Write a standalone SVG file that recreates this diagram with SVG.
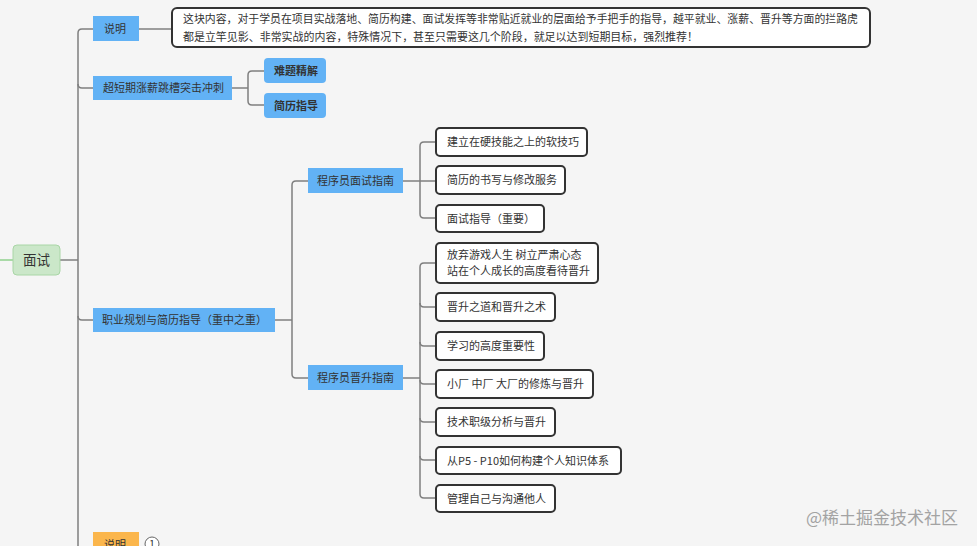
<svg xmlns="http://www.w3.org/2000/svg" width="977" height="546" viewBox="0 0 977 546">
<style>
text{font-family:"Noto Sans CJK SC","Liberation Sans",sans-serif;fill:#333;}
.b{fill:#62b2f5;}
.w{fill:#fff;stroke:#333;stroke-width:2;}
.t{font-size:11px;}
.c{fill:none;stroke:#7f7f7f;stroke-width:1.5;}
</style>
<rect width="977" height="546" fill="#f5f5f5"/>
<g id="connectors">
<path d="M0 260H13" fill="none" stroke="#8fd08c" stroke-width="1.5"/>
<path class="c" d="M60 260H78"/>
<path class="c" d="M93 29H82Q78 29 78 33V546"/>
<path class="c" d="M78 84Q78 88 82 88H93"/>
<path class="c" d="M78 316Q78 320 82 320H93"/>
<path class="c" d="M139 29H172"/>
<path class="c" d="M232 88H248"/>
<path class="c" d="M264 71H252Q248 71 248 75V101Q248 105 252 105H264"/>
<path class="c" d="M275 320H292"/>
<path class="c" d="M308 181H296Q292 181 292 185V374Q292 378 296 378H308"/>
<path class="c" d="M403 181H435"/>
<path class="c" d="M435 142H424Q420 142 420 146V214Q420 218 424 218H435"/>
<path class="c" d="M403 378H420"/>
<path class="c" d="M435 263H424Q420 263 420 267V494Q420 498 424 498H435"/>
<path class="c" d="M420 303Q420 307 424 307H435M420 342Q420 346 424 346H435M420 380Q420 384 424 384H435M420 418Q420 422 424 422H435M420 456Q420 460 424 460H435"/>
</g>
<g id="root">
<rect x="13" y="245" width="47" height="30" rx="4" fill="#cbe7c9" stroke="#a9d6a6"/>
<text x="36.5" y="265" font-size="13.5" text-anchor="middle">面试</text>
</g>
<g id="shuoming">
<rect class="b" x="93" y="16" width="46" height="25"/>
<text class="t" x="104" y="32.5">说明</text>
</g>
<g id="desc">
<rect class="w" x="172" y="8" width="698" height="39" rx="5"/>
<text x="183" y="23" font-size="11" textLength="675" lengthAdjust="spacingAndGlyphs">这块内容，对于学员在项目实战落地、简历构建、面试发挥等非常贴近就业的层面给予手把手的指导，越平就业、涨薪、晋升等方面的拦路虎</text>
<text x="183" y="41" font-size="11" textLength="515" lengthAdjust="spacingAndGlyphs">都是立竿见影、非常实战的内容，特殊情况下，甚至只需要这几个阶段，就足以达到短期目标，强烈推荐！</text>
</g>
<g id="sprint">
<rect class="b" x="93" y="76" width="139" height="24"/>
<text class="t" x="103" y="92">超短期涨薪跳槽突击冲刺</text>
</g>
<g id="nanti">
<rect class="b" x="264" y="58" width="62" height="25" rx="4"/>
<text class="t" x="274" y="74.5" font-weight="bold">难题精解</text>
</g>
<g id="jianli">
<rect class="b" x="264" y="93" width="62" height="25" rx="4"/>
<text class="t" x="274" y="109.5" font-weight="bold">简历指导</text>
</g>
<g id="career">
<rect class="b" x="93" y="308" width="182" height="24"/>
<text class="t" x="102" y="324">职业规划与简历指导（重中之重）</text>
</g>
<g id="interview-guide">
<rect class="b" x="308" y="168" width="95" height="25"/>
<text class="t" x="317" y="184.5">程序员面试指南</text>
</g>
<g id="promo-guide">
<rect class="b" x="308" y="365" width="95" height="25"/>
<text class="t" x="317" y="381.5">程序员晋升指南</text>
</g>
<g id="n1"><rect class="w" x="436" y="128" width="151" height="28" rx="4"/><text class="t" x="447" y="146">建立在硬技能之上的软技巧</text></g>
<g id="n2"><rect class="w" x="436" y="166" width="129" height="28" rx="4"/><text class="t" x="447" y="184">简历的书写与修改服务</text></g>
<g id="n3"><rect class="w" x="436" y="205" width="108" height="27" rx="4"/><text class="t" x="447" y="222.5">面试指导（重要）</text></g>
<g id="p1"><rect class="w" x="436" y="243" width="162" height="40" rx="4"/><text class="t" x="447" y="259">放弃游戏人生 树立严肃心态</text><text class="t" x="447" y="275">站在个人成长的高度看待晋升</text></g>
<g id="p2"><rect class="w" x="436" y="293" width="119" height="28" rx="4"/><text class="t" x="447" y="311">晋升之道和晋升之术</text></g>
<g id="p3"><rect class="w" x="436" y="332" width="108" height="28" rx="4"/><text class="t" x="447" y="350">学习的高度重要性</text></g>
<g id="p4"><rect class="w" x="436" y="370" width="157" height="28" rx="4"/><text class="t" x="447" y="388">小厂 中厂 大厂的修炼与晋升</text></g>
<g id="p5"><rect class="w" x="436" y="408" width="119" height="28" rx="4"/><text class="t" x="447" y="426">技术职级分析与晋升</text></g>
<g id="p6"><rect class="w" x="436" y="447" width="185" height="27" rx="4"/><text class="t" x="447" y="464.5">从P5 - P10如何构建个人知识体系</text></g>
<g id="p7"><rect class="w" x="436" y="485" width="119" height="27" rx="4"/><text class="t" x="447" y="502.5">管理自己与沟通他人</text></g>
<g id="shuoming2">
<rect x="93" y="532" width="46" height="25" fill="#fbb64c"/>
<text class="t" x="104" y="548.5">说明</text>
<circle cx="152" cy="544" r="7" fill="#fff" stroke="#666" stroke-width="1"/>
<text x="152" y="548" font-size="10" text-anchor="middle">1</text>
</g>
<text x="958" y="524" font-size="17" text-anchor="end" style="fill:#a3a3a3">@稀土掘金技术社区</text>
</svg>
